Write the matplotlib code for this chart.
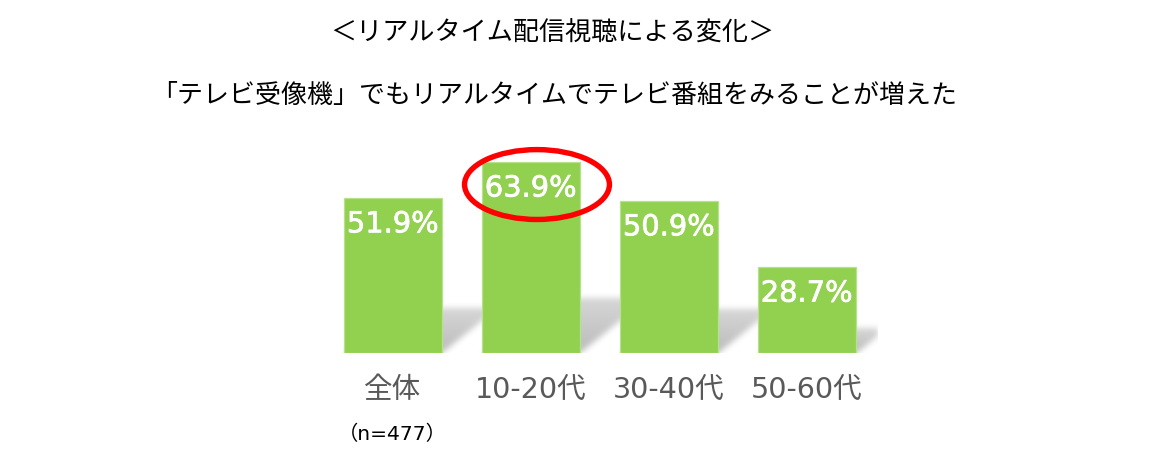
import numpy as np
import matplotlib
matplotlib.use("Agg")
import matplotlib.pyplot as plt
from matplotlib.patches import Ellipse
import matplotlib.patheffects as pe

# ---- data ----
categories = ["全体", "10-20代", "30-40代", "50-60代"]
values = [51.9, 63.9, 50.9, 28.7]
value_labels = ["51.9%", "63.9%", "50.9%", "28.7%"]
highlight_index = 1
sample_note = "（n=477）"
title_main = "＜リアルタイム配信視聴による変化＞"
title_sub = "「テレビ受像機」でもリアルタイムでテレビ番組をみることが増えた"

BAR_COLOR = "#92D050"
BAR_EDGE = "#B8E18C"
LABEL_GRAY = "#595959"
JP = ["Noto Sans CJK JP", "DejaVu Sans"]
MIXED = ["DejaVu Sans", "Noto Sans CJK JP"]

fig = plt.figure(figsize=(11.49, 4.67), dpi=100)
ax = fig.add_axes([0.2818, 0.24475, 0.4816, 0.4477])
ax.set_xlim(-0.5, 3.51)
ax.set_ylim(0, 70)
ax.set_axis_off()

x = np.arange(len(values))
bar_w = 0.708

# ---- soft perspective shadow behind each bar, rasterised in pixel space ----
bbox = ax.bbox
W, H = int(round(bbox.width)), int(round(bbox.height))
xx, yy = np.meshgrid(np.arange(W) + 0.5, np.arange(H) + 0.5)
alpha = np.zeros((H, W))
to_px = ax.transData
for xi, v in zip(x, values):
    (xl, y0), (xr, y1) = to_px.transform([(xi - bar_w / 2, 0), (xi + bar_w / 2, v)])
    xl -= bbox.x0
    xr -= bbox.x0
    y0 -= bbox.y0
    y1 -= bbox.y0
    h_px = y1 - y0
    ox, oy = 0.36 * h_px, 0.29 * h_px
    dy = yy - y0
    shift = dy * ox / oy
    inside = (dy >= 0) & (dy <= oy) & (xx >= xl + shift) & (xx <= xr + shift)
    t = np.clip(dy / oy, 0, 1)
    alpha = np.maximum(alpha, inside * 0.27 * (1 - 0.4 * t))

def gauss_blur(a, sigma):
    r = int(3 * sigma)
    k = np.exp(-0.5 * (np.arange(-r, r + 1) / sigma) ** 2)
    k /= k.sum()
    a = np.apply_along_axis(lambda m: np.convolve(m, k, mode="same"), 0, a)
    a = np.apply_along_axis(lambda m: np.convolve(m, k, mode="same"), 1, a)
    return a

alpha = gauss_blur(alpha, 3.0)
rgba = np.zeros((H, W, 4))
rgba[..., 3] = alpha
ax.imshow(rgba, extent=(*ax.get_xlim(), *ax.get_ylim()), origin="lower",
          aspect="auto", zorder=1, interpolation="bilinear")

# ---- bars ----
ax.bar(x, values, width=bar_w, color=BAR_COLOR, edgecolor=BAR_EDGE,
       linewidth=0.9, zorder=2)

# value labels inside bar tops
thick = [pe.withStroke(linewidth=0.55, foreground="white")]
for xi, v, lab in zip(x, values, value_labels):
    ax.text(xi, v - 11.6, lab, ha="center", va="baseline", color="white",
            fontsize=20.8, family="DejaVu Sans", zorder=3, path_effects=thick)

# category labels and sample size under the bars
for xi, cat in zip(x, categories):
    ax.text(xi, -15.1, cat, ha="center", va="baseline", color=LABEL_GRAY,
            fontsize=20.6, family=MIXED, clip_on=False)
ax.text(x[0], -29.1, sample_note, ha="center", va="baseline", color="black",
        fontsize=14.6, family=MIXED, clip_on=False)

# red ring around the highest value
hv = values[highlight_index]
ax.add_patch(Ellipse((x[highlight_index] + 0.045, hv - 7.6), width=1.05,
                     height=23.4, fill=False, edgecolor="#FF0000",
                     linewidth=3.9, zorder=4, clip_on=False))

# titles
fig.text(0.481, 0.930, title_main, ha="center", va="center", fontsize=18.8,
         family=JP, color="black")
fig.text(0.482, 0.795, title_sub, ha="center", va="center", fontsize=18.7,
         family=JP, color="black")

fig.savefig("out.png", dpi=100, facecolor="white")
